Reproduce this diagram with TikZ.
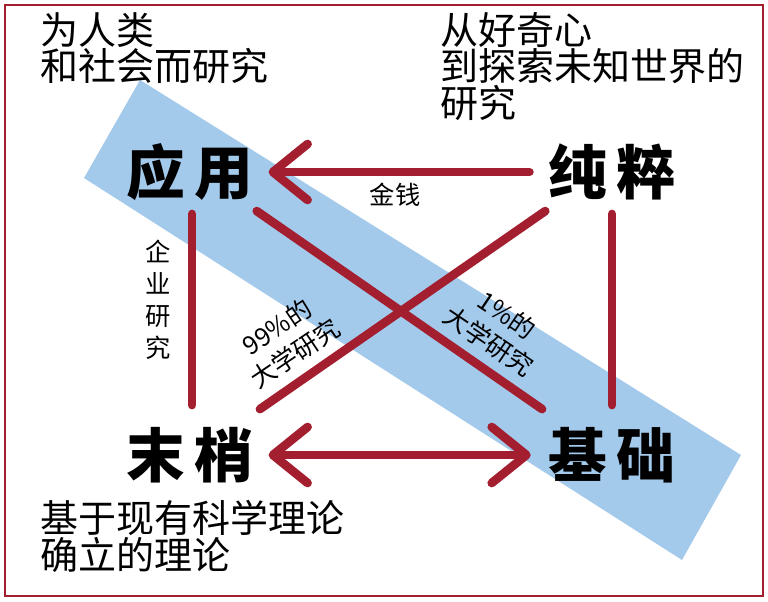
\documentclass[tikz,border=0pt]{standalone}
\usepackage{fontspec}
\setmainfont{Noto Sans CJK SC}
\usetikzlibrary{arrows.meta}
\definecolor{arrowred}{HTML}{A31F30}
\definecolor{bandblue}{HTML}{A3C9EB}
\tikzset{
  big/.style={font=\fontsize{44}{44}\selectfont\bfseries, minimum width=130*0.75pt, minimum height=70*0.75pt, inner sep=0pt},
  corner/.style={font=\fontsize{28.5}{25}\selectfont, align=left, anchor=north west, inner sep=0pt},
  small/.style={font=\fontsize{19}{24}\selectfont, align=center, inner sep=0pt},
  link/.style={draw=arrowred, line width=6.5pt, line cap=round},
  tip/.style={-{Straight Barb[length=26pt,width=42pt,line width=6.5pt,round]}},
  tips/.style={{Straight Barb[length=26pt,width=42pt,line width=6.5pt,round]}-{Straight Barb[length=26pt,width=42pt,line width=6.5pt,round]}}
}
\begin{document}
\begin{tikzpicture}[x=0.75pt,y=-0.75pt]
  \useasboundingbox (0,0) rectangle (768,601);
  \draw[arrowred, line width=1.5pt] (5,5) rectangle (763,596);

  % band
  \fill[bandblue] (140,80) -- (741,455) -- (682,560) -- (84,178) -- cycle;

  % corners
  \node[corner] (human) at (40,12) {为人类\\和社会而研究};
  \node[corner] (curious) at (440,12) {从好奇心\\到探索未知世界的\\研究};
  \node[corner] (theory) at (40,500) {基于现有科学理论\\确立的理论};

  % four nodes
  \node[big] (apply) at (190,172) {应\,用};
  \node[big] (pure) at (612,172) {纯\,粹};
  \node[big] (tail) at (190,455) {末\,梢};
  \node[big] (base) at (612,455) {基\,础};

  % connectors
  \draw[link, tip, shorten <=13pt, shorten >=10pt] (pure.west) -- (apply.east);
  \draw[link, tips, shorten <=10pt, shorten >=12pt] (tail.east) -- (base.west);
  \draw[link, shorten <=5pt, shorten >=11pt] ([xshift=1.5pt]apply.south) -- ([xshift=1.5pt]tail.north);
  \draw[link, shorten <=5pt, shorten >=11pt] (pure.south) -- (base.north);
  \draw[link, shorten <=5pt, shorten >=14pt] ([xshift=-3pt]apply.south east) -- ([xshift=8pt]base.north west);
  \draw[link, shorten <=5pt, shorten >=14pt] ([xshift=3pt]pure.south west) -- ([xshift=-8pt]tail.north east);

  % labels
  \node[small] (money) at (395,195) {金钱};
  \node[small, text width=22pt] (company) at (158,300) {企\\业\\研\\究};
  \node[small, rotate=34] (most) at (286,340) {99\%的\\大学研究};
  \node[small, rotate=-34] (few) at (498,328) {1\%的\\大学研究};
\end{tikzpicture}
\end{document}
